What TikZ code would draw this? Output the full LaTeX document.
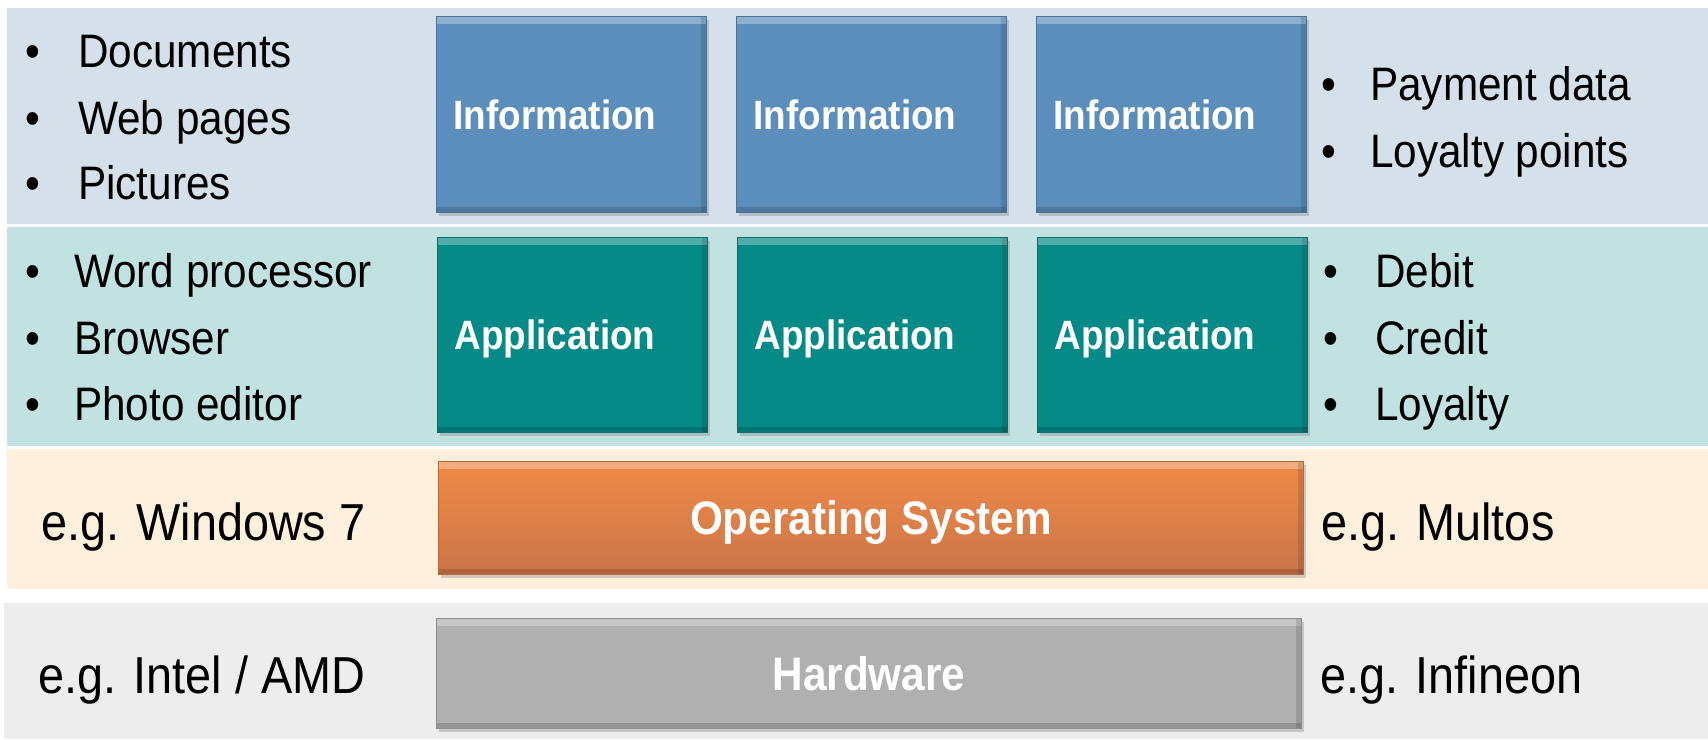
\documentclass[tikz,border=0pt]{standalone}
\usepackage{fontspec}
\setmainfont[FakeStretch=0.9]{Liberation Sans}
\usepackage{xcolor}
\usetikzlibrary{positioning, shadows}
\definecolor{bandinfo}{HTML}{D6E0EA}
\definecolor{bandapp}{HTML}{C2E2E1}
\definecolor{bandos}{HTML}{FEF0DC}
\definecolor{bandhw}{HTML}{EDEDED}
\definecolor{infoblue}{HTML}{5C8EBB}
\definecolor{appteal}{HTML}{058A87}
\definecolor{osorange}{HTML}{E4834A}
\definecolor{ostop}{HTML}{EF8A47}
\definecolor{osbottom}{HTML}{CB7549}
\definecolor{hwgrey}{HTML}{B0B0B0}
\tikzset{
    item/.style={font=\fontsize{47}{56}\selectfont, text height=33.6pt, text depth=0pt, inner sep=0pt, anchor=west},
    dot/.style={font=\fontsize{47}{56}\selectfont, text height=33.6pt, text depth=0pt, inner sep=0pt},
    egtext/.style={font=\fontsize{52}{62}\selectfont, text height=37.2pt, text depth=0pt, inner sep=0pt, anchor=west},
    layer/.style={rectangle, fill=#1, draw=#1!80!black, line width=1pt, text=white,
        drop shadow={shadow xshift=2pt, shadow yshift=-3pt, opacity=.35},
        path picture={
            \fill[white, opacity=.3] (path picture bounding box.north west) rectangle ([yshift=-7pt]path picture bounding box.north east);
            \fill[black, opacity=.15] ([yshift=6pt]path picture bounding box.south west) rectangle (path picture bounding box.south east);
            \fill[black, opacity=.12] ([xshift=-6pt]path picture bounding box.north east) rectangle (path picture bounding box.south east);
        }},
    smallbox/.style={layer=#1, anchor=north west, minimum height=196pt, text width=236pt, inner xsep=17pt, inner ysep=0pt, align=left,
        font=\bfseries\fontsize{41}{48}\selectfont, text height=29.4pt, text depth=0pt},
    widebox/.style={layer=#1, anchor=north west, minimum width=865pt, inner sep=0pt,
        font=\bfseries\fontsize{47}{56}\selectfont, text height=33.6pt, text depth=0pt},
}
\begin{document}
\begin{tikzpicture}[x=1pt, y=-1pt, node distance=29pt]
    \useasboundingbox (0,0) rectangle (1708,739);
    % layer bands
    \fill[bandinfo] (7,8) rectangle (1708,224);
    \fill[bandapp] (7,227) rectangle (1708,446);
    \fill[bandos] (7,449) rectangle (1708,589);
    \fill[bandhw] (4,603) rectangle (1708,739);

    \node[smallbox=infoblue] (info1) at (436,16) {Information};
    \node[smallbox=infoblue, right=of info1] (info2) {Information};
    \node[smallbox=infoblue, right=of info2] (info3) {Information};

    \node[smallbox=appteal, minimum height=195pt] (app1) at (437,237) {Application};
    \node[smallbox=appteal, minimum height=195pt, right=of app1] (app2) {Application};
    \node[smallbox=appteal, minimum height=195pt, right=of app2] (app3) {Application};

    \node[widebox=osorange, top color=ostop, bottom color=osbottom, minimum height=113pt] (os) at (438,461) {Operating System};
    \node[widebox=hwgrey, minimum height=110pt] (hw) at (436,618) {Hardware};

    % examples
    \foreach \txt/\yy [count=\i] in {Documents/51, Web pages/118, Pictures/183} {
        \node[dot] (docb\i) at (33,\yy) {\textbullet};
        \node[item] (doc\i) at (78,\yy) {\txt};
    }
    \foreach \txt/\yy [count=\i] in {Word processor/271, Browser/338, Photo editor/404} {
        \node[dot] (progb\i) at (33,\yy) {\textbullet};
        \node[item] (prog\i) at (74,\yy) {\txt};
    }
    \foreach \txt/\yy [count=\i] in {Payment data/84, Loyalty points/151} {
        \node[dot] (datab\i) at (1329,\yy) {\textbullet};
        \node[item] (data\i) at (1370,\yy) {\txt};
    }
    \foreach \txt/\yy [count=\i] in {Debit/271, Credit/338, Loyalty/404} {
        \node[dot] (cardb\i) at (1331,\yy) {\textbullet};
        \node[item] (card\i) at (1375,\yy) {\txt};
    }

    \node[egtext] (pcos) at (41,522) {e.g. Windows 7};
    \node[egtext] (cardos) at (1321,522) {e.g. Multos};
    \node[egtext] (pchw) at (38,675) {e.g. Intel / AMD};
    \node[egtext] (cardhw) at (1320,675) {e.g. Infineon};
\end{tikzpicture}
\end{document}
